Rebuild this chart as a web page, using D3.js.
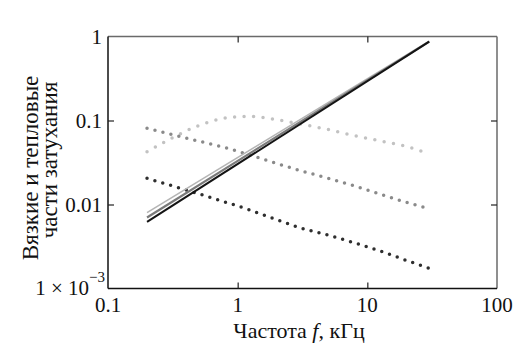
<!DOCTYPE html>
<html>
<head>
<meta charset="utf-8">
<script src="https://cdn.jsdelivr.net/npm/d3@7"></script>
<style>
  body { margin: 0; background: #fff; }
  text { font-family: "Liberation Serif", "Times New Roman", serif; fill: #111; }
</style>
</head>
<body>
<div id="chart"></div>
<script>
// chart data
var freq = [0.2, 0.3, 0.5, 0.8, 1.2, 2, 3, 5, 8, 12, 20, 30];
var thermalHump = [0.0425, 0.060, 0.087, 0.107, 0.112, 0.102, 0.091, 0.078, 0.066, 0.058, 0.049, 0.040];
var viscousGray = [0.081, 0.069, 0.0569, 0.0476, 0.0394, 0.0308, 0.0255, 0.0205, 0.0166, 0.0136, 0.0106, 0.0089];
var viscousDark = [0.0205, 0.0170, 0.0134, 0.0107, 0.00875, 0.0066, 0.0053, 0.00432, 0.00348, 0.00286, 0.00216, 0.00174];

var lineFreq = [0.2, 30];
var lineLight = [0.0080, 0.88];
var lineMid = [0.0070, 0.87];
var lineDark = [0.0062, 0.87];

var xTicks = [0.1, 1, 10, 100];
var xTickLabels = ["0.1", "1", "10", "100"];
var yTicks = [1, 0.1, 0.01];
var yTickLabels = ["1", "0.1", "0.01"];

var svgWidth = 516;
var svgHeight = 364;
var margin = { top: 36.5, right: 19, bottom: 75.5, left: 108 };
var width = svgWidth - margin.left - margin.right;
var height = svgHeight - margin.top - margin.bottom;

var svg = d3.select("#chart")
    .append("svg")
    .attr("width", svgWidth)
    .attr("height", svgHeight)
    .attr("font-family", "Liberation Serif, serif");

var chartGroup = svg.append("g")
    .attr("transform", `translate(${margin.left}, ${margin.top})`);

var xScale = d3.scaleLog().domain([0.1, 100]).range([0, width]);
var yScale = d3.scaleLog().domain([0.001, 1]).range([height, 0]);

// frame: top/right lighter, left/bottom dark
chartGroup.append("line").attr("x1", 0).attr("x2", width).attr("y1", 0).attr("y2", 0)
    .attr("stroke", "#6a6a6a").attr("stroke-width", 1.5);
chartGroup.append("line").attr("x1", width).attr("x2", width).attr("y1", 0).attr("y2", height)
    .attr("stroke", "#6a6a6a").attr("stroke-width", 1.5);
chartGroup.append("line").attr("x1", 0).attr("x2", 0).attr("y1", 0).attr("y2", height)
    .attr("stroke", "#111").attr("stroke-width", 1.5);
chartGroup.append("line").attr("x1", 0).attr("x2", width).attr("y1", height).attr("y2", height)
    .attr("stroke", "#111").attr("stroke-width", 1.5);

// inner ticks
var bottomAxis = d3.axisBottom(xScale).tickValues([1, 10]).tickSizeInner(-6).tickSizeOuter(0).tickFormat("");
var topAxis = d3.axisTop(xScale).tickValues([1, 10]).tickSizeInner(-6).tickSizeOuter(0).tickFormat("");
var leftAxis = d3.axisLeft(yScale).tickValues([0.1, 0.01]).tickSizeInner(-6).tickSizeOuter(0).tickFormat("");
var rightAxis = d3.axisRight(yScale).tickValues([0.1, 0.01]).tickSizeInner(-6).tickSizeOuter(0).tickFormat("");

chartGroup.append("g").attr("transform", `translate(0, ${height})`).call(bottomAxis);
chartGroup.append("g").call(topAxis);
chartGroup.append("g").call(leftAxis);
chartGroup.append("g").attr("transform", `translate(${width}, 0)`).call(rightAxis);
chartGroup.selectAll(".domain").remove();
chartGroup.selectAll(".tick line").attr("stroke", "#222").attr("stroke-width", 1.2);

// tick labels
chartGroup.selectAll(".xlab")
    .data(xTicks)
    .enter()
    .append("text")
    .attr("x", d => xScale(d))
    .attr("y", height + 23)
    .attr("text-anchor", "middle")
    .attr("font-size", 21)
    .text((d, i) => xTickLabels[i]);

chartGroup.selectAll(".ylab")
    .data(yTicks)
    .enter()
    .append("text")
    .attr("x", -6)
    .attr("y", d => yScale(d))
    .attr("dy", "0.35em")
    .attr("text-anchor", "end")
    .attr("font-size", 21)
    .text((d, i) => yTickLabels[i]);

var minLabel = chartGroup.append("text")
    .attr("x", -3)
    .attr("y", yScale(0.001) + 6)
    .attr("text-anchor", "end")
    .attr("font-size", 21);
minLabel.append("tspan").text("1 \u00d7 10");
minLabel.append("tspan").attr("dy", -13).attr("font-size", 15).text("\u22123");

// lines
var line = d3.line()
    .x(d => xScale(d[0]))
    .y(d => yScale(d[1]));

function pairs(xs, ys) {
    return xs.map((x, i) => [x, ys[i]]);
}

var dotted = [
    { values: thermalHump, color: "#c2c2c2", gap: 9.5 },
    { values: viscousGray, color: "#8a8a8a", gap: 8.2 },
    { values: viscousDark, color: "#2e2e2e", gap: 8.2 }
];

dotted.forEach(function(s) {
    chartGroup.append("path")
        .datum(pairs(freq, s.values))
        .attr("d", line.curve(d3.curveMonotoneX))
        .attr("fill", "none")
        .attr("stroke", s.color)
        .attr("stroke-width", 3.5)
        .attr("stroke-linecap", "round")
        .attr("stroke-dasharray", `0 ${s.gap}`);
});

var solid = [
    { values: lineLight, color: "#b5b5b5", w: 1.6 },
    { values: lineMid, color: "#7a7a7a", w: 2.2 },
    { values: lineDark, color: "#141414", w: 2 }
];

solid.forEach(function(s) {
    chartGroup.append("path")
        .datum(pairs(lineFreq, s.values))
        .attr("d", line.curve(d3.curveLinear))
        .attr("fill", "none")
        .attr("stroke", s.color)
        .attr("stroke-width", s.w);
});

// axis titles
svg.append("text")
    .attr("x", 299)
    .attr("y", 338)
    .attr("text-anchor", "middle")
    .attr("font-size", 22)
    .html("Частота <tspan font-style='italic'>f</tspan>, кГц");

svg.append("text")
    .attr("transform", "translate(38, 168) rotate(-90)")
    .attr("text-anchor", "middle")
    .attr("font-size", 23)
    .text("Вязкие и тепловые");

svg.append("text")
    .attr("transform", "translate(57, 160) rotate(-90)")
    .attr("text-anchor", "middle")
    .attr("font-size", 23)
    .text("части затухания");
</script>
</body>
</html>
